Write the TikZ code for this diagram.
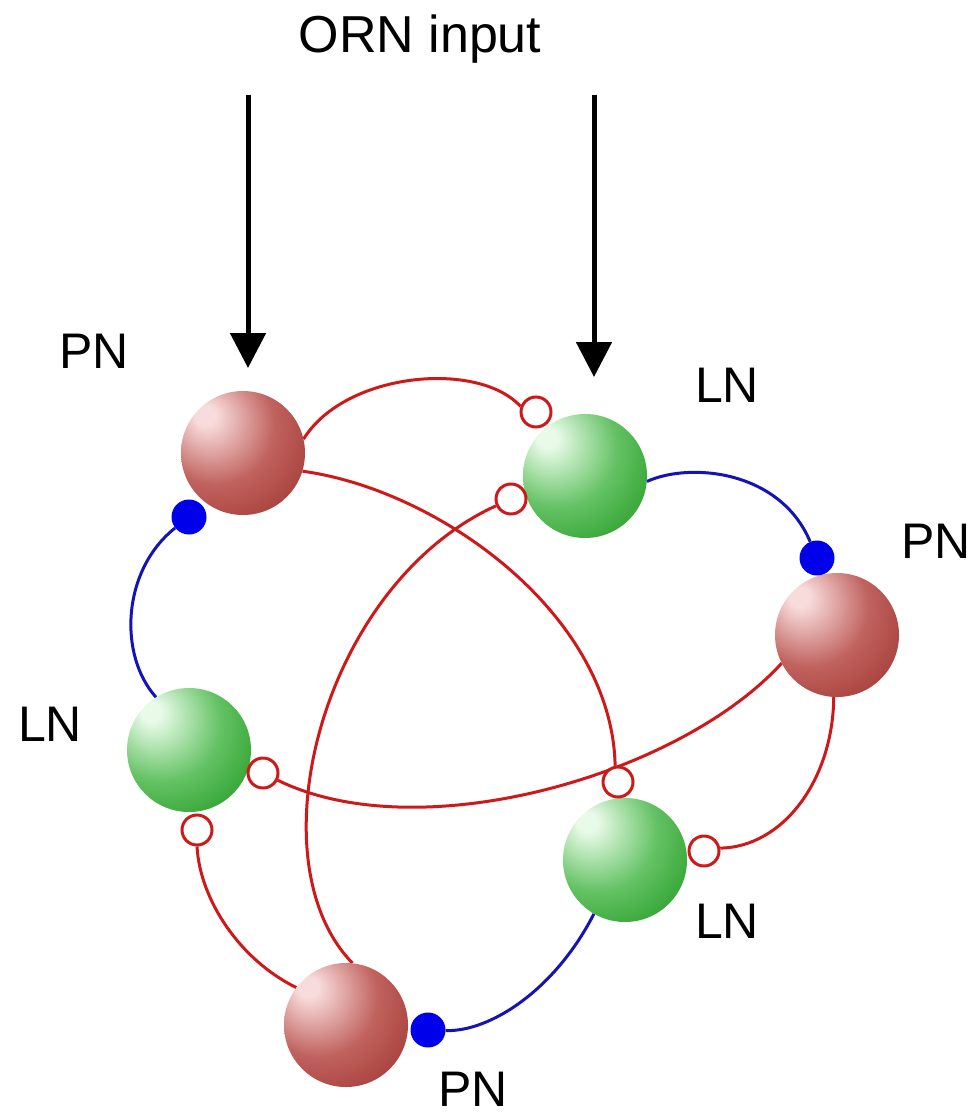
\documentclass[tikz,border=0pt]{standalone}
\usepackage{fontspec}
\setmainfont{Liberation Sans}
\usetikzlibrary{arrows.meta}
\definecolor{pnhi}{RGB}{248,220,220}
\definecolor{pnmid}{RGB}{192,98,94}
\definecolor{pndark}{RGB}{150,40,36}
\definecolor{lnhi}{RGB}{232,250,232}
\definecolor{lnmid}{RGB}{100,194,100}
\definecolor{lndark}{RGB}{15,142,15}
\definecolor{synred}{RGB}{205,25,25}
\definecolor{synblue}{RGB}{20,20,180}
\definecolor{dotblue}{RGB}{0,0,235}
\pgfdeclareradialshading{pnshade}{\pgfpoint{-16bp}{16bp}}{color(0bp)=(pnhi); color(4bp)=(pnhi); color(24bp)=(pnmid); color(50bp)=(pndark); color(80bp)=(pndark)}
\pgfdeclareradialshading{lnshade}{\pgfpoint{-16bp}{16bp}}{color(0bp)=(lnhi); color(4bp)=(lnhi); color(24bp)=(lnmid); color(50bp)=(lndark); color(80bp)=(lndark)}
\pgfdeclarelayer{back}
\pgfdeclarelayer{bg}
\pgfsetlayers{back,bg,main}
\begin{document}
\begin{tikzpicture}[x=1pt,y=-1pt,
  pnball/.style={circle,minimum size=124pt,inner sep=0pt,shading=pnshade},
  lnball/.style={circle,minimum size=124pt,inner sep=0pt,shading=lnshade},
  opensyn/.style={circle,draw=synred,line width=3pt,fill=white,minimum size=30pt,inner sep=0pt},
  dotsyn/.style={circle,fill=dotblue,minimum size=35pt,inner sep=0pt},
  redlink/.style={draw=synred,line width=3pt},
  bluelink/.style={draw=synblue,line width=3pt},
  ornarrow/.style={line width=5pt,-{Triangle[length=35pt,width=35pt]}},
  lbl/.style={font=\fontsize{50}{60}\selectfont,inner sep=0pt,anchor=base}]
\begin{pgfonlayer}{back}
\fill[white] (0,0) rectangle (973,1115);
\end{pgfonlayer}
\useasboundingbox (0,0) rectangle (973,1115);

% spheres
\node[pnball] (PN1) at (243,453) {};
\node[lnball] (LN1) at (585,476) {};
\node[pnball] (PN2) at (837,635) {};
\node[lnball] (LN2) at (189,750) {};
\node[lnball] (LN3) at (625,860) {};
\node[pnball] (PN3) at (346,1025) {};

% synapses
\node[opensyn] (o1) at (536,412) {};
\node[opensyn] (o2) at (511,499) {};
\node[opensyn] (o3) at (618,782) {};
\node[opensyn] (o4) at (704,851) {};
\node[opensyn] (o5) at (263,773) {};
\node[opensyn] (o6) at (197,830) {};
\node[dotsyn] (b1) at (189,517) {};
\node[dotsyn] (b2) at (817,558) {};
\node[dotsyn] (b3) at (428,1030) {};

\begin{pgfonlayer}{bg}
\path[redlink] (PN1.13) .. controls (345,372) and (478,360) .. (o1.160);
\path[redlink] (PN1.-17) .. controls (440,490) and (612,615) .. (o3.100);
\path[redlink] (o2) .. controls (322,585) and (252,860) .. (PN3.84);
\path[redlink] (PN2.207) .. controls (680,775) and (420,850) .. (o5);
\path[redlink] (PN2.-93) .. controls (833,780) and (783,847) .. (o4.10);
\path[redlink] (PN3.143) .. controls (240,960) and (200,900) .. (o6.-90);
\path[bluelink] (LN1.-5) .. controls (690,462) and (780,470) .. (b2);
\path[bluelink] (LN3.-120) .. controls (555,990) and (490,1032) .. (b3);
\path[bluelink] (LN2.122) .. controls (118,655) and (122,570) .. (b1);
\end{pgfonlayer}

% ORN input arrows
\coordinate (a1s) at (248,95);
\coordinate (a1e) at (248,368);
\coordinate (a2s) at (594,95);
\coordinate (a2e) at (594,377);
\draw[ornarrow] (a1s) -- (a1e);
\draw[ornarrow] (a2s) -- (a2e);

% labels
\node[lbl,font=\fontsize{52}{60}\selectfont] (torn) at (420,53) {ORN input};
\node[lbl] (tpn1) at (94,368) {PN};
\node[lbl] (tln1) at (727,402) {LN};
\node[lbl] (tpn2) at (936,558) {PN};
\node[lbl] (tln2) at (50,741) {LN};
\node[lbl] (tln3) at (727,938) {LN};
\node[lbl] (tpn3) at (473,1106) {PN};
\end{tikzpicture}
\end{document}
